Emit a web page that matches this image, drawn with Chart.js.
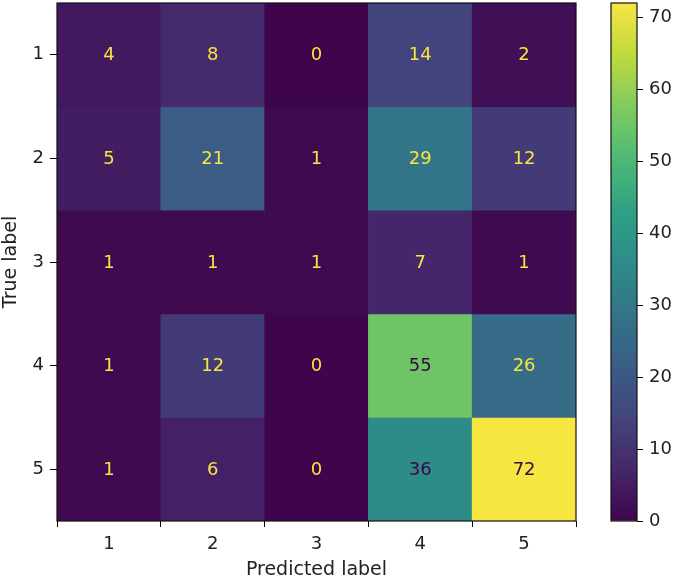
<!DOCTYPE html>
<html>
<head>
<meta charset="utf-8">
<script src="https://cdn.jsdelivr.net/npm/chart.js@4/dist/chart.umd.min.js"></script>
<style>
  body { margin: 0; background: #fff; }
  #wrap { position: relative; width: 676px; height: 581px; }
  #matriz { position: absolute; left: 0; top: 0; }
  #barra { position: absolute; left: 600px; top: 0; }
</style>
</head>
<body>
<div id="wrap">
  <canvas id="matriz" width="676" height="581"></canvas>
  <canvas id="barra" width="76" height="581"></canvas>
</div>
<script>
// etiquetas y valores de la matriz de confusion
let etiquetasPred = ['1', '2', '3', '4', '5'];
let etiquetasReal = ['1', '2', '3', '4', '5'];
let fila1 = [4, 8, 0, 14, 2];
let fila2 = [5, 21, 1, 29, 12];
let fila3 = [1, 1, 1, 7, 1];
let fila4 = [1, 12, 0, 55, 26];
let fila5 = [1, 6, 0, 36, 72];
let filas = [fila1, fila2, fila3, fila4, fila5];
let ticksBarra = [0, 10, 20, 30, 40, 50, 60, 70];

let fuente = { family: "'DejaVu Sans', sans-serif", size: 18 };
let fuenteTitulo = { family: "'DejaVu Sans', sans-serif", size: 19 };
let colorTexto = '#222';

let viridisHex = ['#440154', '#482475', '#414487', '#355f8d', '#2a788e', '#21918c',
                  '#22a884', '#44bf70', '#7ad151', '#bddf26', '#fde725'];

let hexRgb = (h) => [parseInt(h.slice(1,3),16), parseInt(h.slice(3,5),16), parseInt(h.slice(5,7),16)];

// la imagen original se ve un poco apagada, se baja algo la saturacion
let viridis = (t) => {
    t = Math.max(0, Math.min(1, t));
    let pos = t * (viridisHex.length - 1);
    let i = Math.min(Math.floor(pos), viridisHex.length - 2);
    let f = pos - i;
    let a = hexRgb(viridisHex[i]);
    let b = hexRgb(viridisHex[i+1]);
    let c = a.map((v, k) => v + (b[k]-v)*f);
    let lum = 0.3*c[0] + 0.59*c[1] + 0.11*c[2];
    c = c.map(v => Math.round(v + (lum - v)*0.15));
    return `rgb(${c[0]},${c[1]},${c[2]})`;
}

let todos = filas.flat();
let vMin = Math.min(...todos);
let vMax = Math.max(...todos);
let umbral = (vMin + vMax) / 2;

let datasets = filas.map((fila, r) => ({
    label: etiquetasReal[r],
    data: fila.map(() => [r + 0.5, r + 1.5]),
    valores: fila,
    backgroundColor: fila.map(v => viridis((v - vMin) / (vMax - vMin))),
    borderWidth: 0,
    barPercentage: 1,
    categoryPercentage: 1,
    grouped: false
}));

let marco = {
    id: 'marco',
    afterDatasetsDraw(chart) {
        let ctx = chart.ctx;
        let a = chart.chartArea;
        ctx.save();
        ctx.strokeStyle = '#111';
        ctx.lineWidth = 1.2;
        ctx.strokeRect(a.left, a.top, a.right - a.left, a.bottom - a.top);
        ctx.restore();
    }
};

let textoCeldas = {
    id: 'textoCeldas',
    afterDatasetsDraw(chart) {
        let ctx = chart.ctx;
        ctx.save();
        ctx.font = `${fuente.size}px ${fuente.family}`;
        ctx.textAlign = 'center';
        ctx.textBaseline = 'middle';
        chart.data.datasets.forEach((ds, d) => {
            let meta = chart.getDatasetMeta(d);
            meta.data.forEach((bar, j) => {
                let v = ds.valores[j];
                ctx.fillStyle = v < umbral ? viridis(1) : viridis(0);
                ctx.fillText(String(v), bar.x, (bar.y + bar.base) / 2 + 1);
            });
        });
        ctx.restore();
    }
};

let sinRelleno = (s) => { s.paddingTop = 0; s.paddingBottom = 0; };

let chartMatriz = new Chart(document.getElementById('matriz'), {
    type: 'bar',
    data: { labels: etiquetasPred, datasets: datasets },
    options: {
        responsive: false,
        animation: false,
        layout: { padding: { top: 3, right: 100, left: 0, bottom: 0 } },
        plugins: { legend: { display: false }, tooltip: { enabled: false } },
        scales: {
            x: {
                grid: { drawOnChartArea: false, drawTicks: true, tickLength: 6, color: '#000' },
                border: { display: false },
                ticks: { color: colorTexto, font: fuente, padding: 7 },
                title: { display: true, text: 'Predicted label', color: colorTexto, font: fuenteTitulo, padding: { top: 0, bottom: 0 } },
                afterFit: (s) => { s.height = 60; }
            },
            y: {
                reverse: true,
                min: 0.5,
                max: 5.5,
                afterBuildTicks: (s) => { s.ticks = etiquetasReal.map((_, i) => ({ value: i + 1 })); },
                grid: { drawOnChartArea: false, drawTicks: true, tickLength: 7, color: '#000' },
                border: { display: false },
                ticks: { color: colorTexto, font: fuente, padding: 6, callback: (v) => etiquetasReal[v - 1] },
                title: { display: true, text: 'True label', color: colorTexto, font: fuenteTitulo, padding: { top: 0, bottom: 0 } },
                afterFit: (s) => { s.width = 57; sinRelleno(s); }
            }
        }
    },
    plugins: [textoCeldas, marco]
});

// barra de color
let gradienteViridis = (context) => {
    let chart = context.chart;
    let a = chart.chartArea;
    if (!a) return viridis(0);
    let g = chart.ctx.createLinearGradient(0, a.bottom, 0, a.top);
    for (let i = 0; i <= 20; i++) {
        g.addColorStop(i / 20, viridis(i / 20));
    }
    return g;
}

let chartBarra = new Chart(document.getElementById('barra'), {
    type: 'bar',
    data: {
        labels: [''],
        datasets: [{ data: [[vMin, vMax]], backgroundColor: gradienteViridis, borderWidth: 0, barPercentage: 1, categoryPercentage: 1 }]
    },
    options: {
        responsive: false,
        animation: false,
        layout: { padding: { top: 3, right: 0, left: 11, bottom: 60 } },
        plugins: { legend: { display: false }, tooltip: { enabled: false } },
        scales: {
            x: { display: false },
            y: {
                position: 'right',
                min: vMin,
                max: vMax,
                afterBuildTicks: (s) => { s.ticks = ticksBarra.map(v => ({ value: v })); },
                grid: { drawOnChartArea: false, drawTicks: true, tickLength: 6, color: '#000' },
                border: { display: false },
                ticks: { color: colorTexto, font: fuente, padding: 6 },
                afterFit: (s) => { s.width = 39; sinRelleno(s); }
            }
        }
    },
    plugins: [marco]
});
</script>
</body>
</html>
